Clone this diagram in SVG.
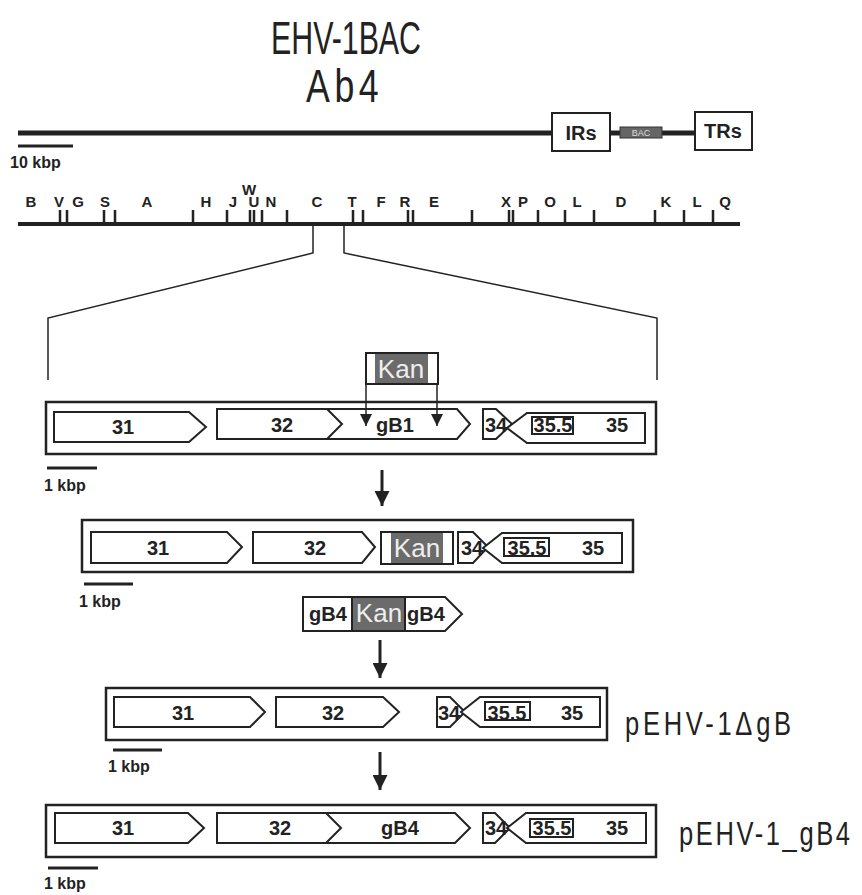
<svg xmlns="http://www.w3.org/2000/svg" width="862" height="895" viewBox="0 0 862 895">
<defs>
<style>
.ln{stroke:#222;fill:none}
.gene{fill:#fff;stroke:#222;stroke-width:2}
.frame{fill:#fff;stroke:#222;stroke-width:2.5}
.gl{font-family:"Liberation Sans",Arial,sans-serif;font-weight:bold;font-size:20px;fill:#222;text-anchor:middle}
.kan{font-family:"Liberation Sans",Arial,sans-serif;font-size:26px;fill:#eee;text-anchor:middle}
.kanbox{fill:#6b6b6b;stroke:none}
.rl{font-family:"Liberation Sans",Arial,sans-serif;font-weight:bold;font-size:15px;fill:#222;text-anchor:middle}
.sc{font-family:"Liberation Sans",Arial,sans-serif;font-weight:bold;font-size:16px;fill:#222}
.big{font-family:"Liberation Sans",Arial,sans-serif;fill:#222}
.tick{stroke:#222;stroke-width:2.5}
</style>
<marker id="ah" viewBox="0 0 10 10" refX="10" refY="5" markerWidth="5" markerHeight="5" orient="auto" markerUnits="strokeWidth">
<path d="M0,0 L10,5 L0,10 z" fill="#222"/>
</marker>
<marker id="ahs" viewBox="0 0 10 10" refX="10" refY="5" markerWidth="10" markerHeight="8" orient="auto" markerUnits="strokeWidth">
<path d="M0,0 L10,5 L0,10 z" fill="#222"/>
</marker>
</defs>
<rect width="862" height="895" fill="#fff"/>

<g id="title">
<text class="big" x="271" y="54" font-size="47" textLength="150" lengthAdjust="spacingAndGlyphs">EHV-1BAC</text>
<text class="big" transform="translate(306,102) scale(0.76,1)" font-size="47" letter-spacing="6">Ab4</text>
</g>

<g id="genome">
<line class="ln" x1="18" y1="133" x2="752" y2="133" stroke-width="5"/>
<rect x="552" y="113" width="58" height="38" fill="#fff" stroke="#222" stroke-width="2"/>
<text class="gl" x="581" y="140" font-size="18">IRs</text>
<rect x="620" y="127" width="42" height="11" fill="#666" stroke="#333" stroke-width="1"/>
<text x="641" y="136" font-family="Liberation Sans,Arial,sans-serif" font-size="9" fill="#ddd" text-anchor="middle">BAC</text>
<rect x="695" y="112" width="57" height="38" fill="#fff" stroke="#222" stroke-width="2"/>
<text class="gl" x="723" y="138" font-size="18">TRs</text>
<line class="ln" x1="18" y1="146" x2="73" y2="146" stroke-width="3"/>
<text class="sc" x="10" y="168" font-size="15">10 kbp</text>
</g>

<g id="restriction-map">
<line class="ln" x1="18" y1="224" x2="740" y2="224" stroke-width="4"/>
<path class="tick" d="M60,210V224M67,210V224M104,210V224M115,210V224M193,210V224M227,210V224M250,210V224M254,210V224M262,210V224M287,210V224M353,210V224M363,210V224M408,210V224M413,210V224M472,210V224M509,210V224M513,210V224M538,210V224M565,210V224M594,210V224M655,210V224M684,210V224M713,210V224"/>
<text class="rl" x="31" y="207">B</text>
<text class="rl" x="59" y="207">V</text>
<text class="rl" x="78" y="207">G</text>
<text class="rl" x="105" y="207">S</text>
<text class="rl" x="147" y="207">A</text>
<text class="rl" x="206" y="207">H</text>
<text class="rl" x="233" y="207">J</text>
<text class="rl" x="249" y="195">W</text>
<text class="rl" x="254" y="207">U</text>
<text class="rl" x="271" y="207">N</text>
<text class="rl" x="317" y="207">C</text>
<text class="rl" x="352" y="207">T</text>
<text class="rl" x="381" y="207">F</text>
<text class="rl" x="405" y="207">R</text>
<text class="rl" x="434" y="207">E</text>
<text class="rl" x="506" y="207">X</text>
<text class="rl" x="523" y="207">P</text>
<text class="rl" x="550" y="207">O</text>
<text class="rl" x="577" y="207">L</text>
<text class="rl" x="621" y="207">D</text>
<text class="rl" x="666" y="207">K</text>
<text class="rl" x="697" y="207">L</text>
<text class="rl" x="725" y="207">Q</text>
</g>

<g id="construct-wt">
<rect class="frame" x="46" y="402" width="610" height="52"/>
<path class="gene" d="M54,412H189L206,427L189,442H54Z"/>
<text class="gl" x="123" y="434">31</text>
<path class="gene" d="M217,409H457L470,424L457,439H217Z"/>
<path class="ln" stroke-width="2" d="M327,409L342,424L327,439"/>
<text class="gl" x="282" y="432">32</text>
<text class="gl" x="395" y="432">gB1</text>
<path class="gene" d="M483,409H496L512,424L496,439H483Z"/>
<path class="gene" d="M645,413H527L507,428L527,443H645Z"/>
<rect x="532" y="417" width="41" height="17" fill="none" stroke="#222" stroke-width="2"/>
<text class="gl" x="496" y="432">34</text>
<text class="gl" x="553" y="432">35.5</text>
<text class="gl" x="617" y="432">35</text>
<line class="ln" x1="47" y1="468" x2="97" y2="468" stroke-width="3"/>
<text class="sc" x="44" y="491">1 kbp</text>
</g>

<g id="kan-cassette">
<rect x="366" y="353" width="72" height="31" fill="#fff" stroke="#222" stroke-width="2"/>
<rect class="kanbox" x="375" y="354" width="53" height="29"/>
<text class="kan" x="401" y="378">Kan</text>
</g>

<g id="construct-kan">
<rect class="frame" x="82" y="520" width="551" height="52"/>
<path class="gene" d="M91,532H227L242,547L227,563H91Z"/>
<text class="gl" x="158" y="555">31</text>
<path class="gene" d="M253,532H362L375,547L362,563H253Z"/>
<text class="gl" x="315" y="555">32</text>
<rect x="381" y="532" width="72" height="32" fill="#fff" stroke="#222" stroke-width="2"/>
<rect class="kanbox" x="391" y="533" width="52" height="30"/>
<text class="kan" x="417" y="557">Kan</text>
<path class="gene" d="M458,532H473L488,547L473,563H458Z"/>
<path class="gene" d="M622,533H502L483,548L502,563H622Z"/>
<rect x="504" y="538" width="45" height="18" fill="none" stroke="#222" stroke-width="2"/>
<text class="gl" x="527" y="555">35.5</text>
<text class="gl" x="472" y="555">34</text>
<text class="gl" x="593" y="555">35</text>
<line class="ln" x1="84" y1="584" x2="133" y2="584" stroke-width="3"/>
<text class="sc" x="79" y="607">1 kbp</text>
</g>

<g id="gb4-kan-gb4">
<path class="gene" d="M303,597H445L462,614L445,631H303Z"/>
<rect class="kanbox" x="352" y="598" width="53" height="32"/>
<line class="ln" x1="352" y1="597" x2="352" y2="631" stroke-width="2"/>
<line class="ln" x1="405" y1="597" x2="405" y2="631" stroke-width="2"/>
<text class="gl" x="328" y="621">gB4</text>
<text class="kan" x="379" y="622" font-size="23">Kan</text>
<text class="gl" x="426" y="621">gB4</text>
</g>

<g id="construct-dgB">
<rect class="frame" x="106" y="688" width="501" height="52"/>
<path class="gene" d="M114,697H250L265,712L250,727H114Z"/>
<text class="gl" x="183" y="720">31</text>
<path class="gene" d="M276,697H383L399,712L383,727H276Z"/>
<text class="gl" x="333" y="720">32</text>
<path class="gene" d="M437,697H450L465,712L450,727H437Z"/>
<path class="gene" d="M600,697H480L461,712L480,727H600Z"/>
<rect x="485" y="702" width="45" height="18" fill="none" stroke="#222" stroke-width="2"/>
<text class="gl" x="507" y="720">35.5</text>
<text class="gl" x="449" y="720">34</text>
<text class="gl" x="572" y="720">35</text>
<line class="ln" x1="113" y1="750" x2="162" y2="750" stroke-width="3"/>
<text class="sc" x="108" y="772">1 kbp</text>
<text class="big" transform="translate(625,735) scale(0.75,1)" font-size="34" letter-spacing="5">pEHV-1ΔgB</text>
</g>

<g id="construct-gB4">
<rect class="frame" x="46" y="805" width="610" height="52"/>
<path class="gene" d="M55,813H188L204,828L188,843H55Z"/>
<text class="gl" x="123" y="835">31</text>
<path class="gene" d="M217,813H455L470,828L455,843H217Z"/>
<path class="ln" stroke-width="2" d="M326,813L341,828L326,843"/>
<text class="gl" x="280" y="835">32</text>
<text class="gl" x="400" y="835">gB4</text>
<path class="gene" d="M483,813H495L510,828L495,843H483Z"/>
<path class="gene" d="M646,813H526L507,828L526,843H646Z"/>
<rect x="530" y="819" width="43" height="18" fill="none" stroke="#222" stroke-width="2"/>
<text class="gl" x="552" y="835">35.5</text>
<text class="gl" x="496" y="835">34</text>
<text class="gl" x="617" y="835">35</text>
<line class="ln" x1="48" y1="868" x2="98" y2="868" stroke-width="3"/>
<text class="sc" x="44" y="889">1 kbp</text>
<text class="big" transform="translate(679,845) scale(0.75,1)" font-size="34" letter-spacing="3.5">pEHV-1_gB4</text>
</g>

<g id="connectors">
<polyline class="ln" stroke-width="1.5" points="313,224 313,253 48,318 48,380"/>
<polyline class="ln" stroke-width="1.5" points="344,224 344,253 657,318 657,380"/>
<line class="ln" x1="366" y1="384" x2="366" y2="426" stroke-width="1.5" marker-end="url(#ahs)"/>
<line class="ln" x1="437" y1="384" x2="437" y2="426" stroke-width="1.5" marker-end="url(#ahs)"/>
<line class="ln" x1="382" y1="470" x2="382" y2="506" stroke-width="3" marker-end="url(#ah)"/>
<line class="ln" x1="380" y1="640" x2="380" y2="678" stroke-width="3" marker-end="url(#ah)"/>
<line class="ln" x1="380" y1="752" x2="380" y2="790" stroke-width="3" marker-end="url(#ah)"/>
</g>
</svg>
